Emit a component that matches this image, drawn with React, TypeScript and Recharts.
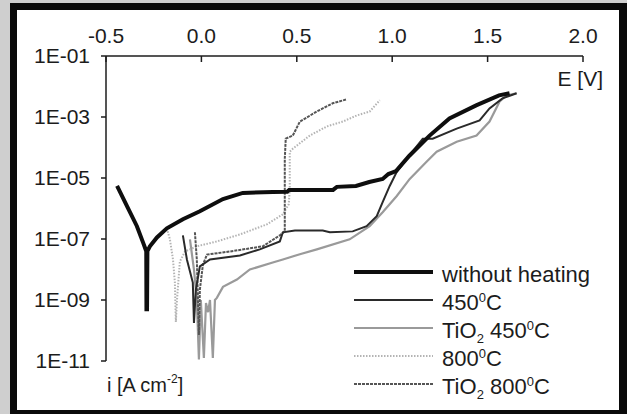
import { LineChart, Line, XAxis, YAxis, Legend } from 'recharts'

const xTicks = [-0.5, 0, 0.5, 1, 1.5, 2]
const yTicks = [-11, -9, -7, -5, -3, -1]

// [E in V, log10 of i in A cm-2]
const withoutHeating = [
  [-0.442, -5.26], [-0.39, -5.92], [-0.338, -6.58], [-0.306, -7.11], [-0.289, -7.4],
  [-0.288, -9.3], [-0.285, -9.3], [-0.283, -7.4], [-0.27, -7.24], [-0.233, -6.95],
  [-0.181, -6.65], [-0.097, -6.35], [-0.008, -6.09], [0.113, -5.69], [0.217, -5.49],
  [0.374, -5.46], [0.45, -5.45], [0.46, -5.39], [0.69, -5.39], [0.71, -5.29],
  [0.81, -5.26], [0.88, -5.13], [0.95, -5.03], [0.98, -4.87], [1.02, -4.77],
  [1.09, -4.27], [1.196, -3.61], [1.3, -3.05], [1.44, -2.62], [1.56, -2.29], [1.615, -2.22],
]

const heated450 = [
  [-0.097, -6.88], [-0.076, -7.67], [-0.045, -8.43], [-0.039, -9.75], [-0.029, -8.66],
  [-0.008, -7.9], [0.045, -7.67], [0.202, -7.54], [0.306, -7.34], [0.411, -7.08],
  [0.427, -6.78], [0.49, -6.72], [0.636, -6.72], [0.673, -6.78], [0.793, -6.75],
  [0.866, -6.58], [0.919, -6.25], [0.95, -5.79], [0.987, -5.26], [1.024, -4.8],
  [1.076, -4.37], [1.16, -3.71], [1.212, -3.71], [1.338, -3.38], [1.458, -3.11],
  [1.51, -2.72], [1.578, -2.39], [1.652, -2.22],
]

const tio2450 = [
  [-0.06, -7.01], [-0.039, -8.0], [-0.024, -9.0], [-0.013, -10.95], [-0.003, -9.0],
  [0.013, -10.9], [0.024, -9.1], [0.035, -9.4], [0.045, -9.0], [0.06, -10.9],
  [0.071, -9.0], [0.081, -8.93], [0.113, -8.57], [0.186, -8.33], [0.254, -8.0],
  [0.374, -7.77], [0.427, -7.67], [0.516, -7.5], [0.605, -7.34], [0.777, -7.01],
  [0.882, -6.58], [0.95, -6.12], [1.024, -5.59], [1.092, -5.03], [1.18, -4.47],
  [1.233, -4.14], [1.338, -3.81], [1.442, -3.61], [1.51, -3.15], [1.563, -2.49],
  [1.6, -2.29], [1.652, -2.22],
]

const heated800 = [
  [-0.181, -6.65], [-0.165, -7.01], [-0.149, -7.67], [-0.139, -8.43], [-0.134, -9.72],
  [-0.128, -9.0], [-0.113, -7.74], [-0.086, -7.41], [-0.024, -7.24], [0.081, -7.08],
  [0.202, -6.85], [0.343, -6.52], [0.427, -6.19], [0.458, -5.86], [0.463, -5.36],
  [0.463, -4.14], [0.479, -4.04], [0.568, -3.61], [0.657, -3.31], [0.741, -3.15],
  [0.814, -2.95], [0.882, -2.82], [0.935, -2.45],
]

const tio2800 = [
  [-0.034, -6.78], [-0.024, -7.67], [-0.018, -8.99], [-0.013, -10.15], [-0.008, -8.66],
  [0.008, -7.84], [0.029, -7.51], [0.149, -7.41], [0.322, -7.24], [0.411, -6.88],
  [0.437, -6.75], [0.437, -5.69], [0.437, -4.37], [0.442, -3.71], [0.479, -3.61],
  [0.516, -3.15], [0.605, -2.82], [0.688, -2.55], [0.762, -2.42],
]

const toRows = (pts: number[][]) => pts.map(([e, lg]) => ({ e, lg }))

const FONT = '"Liberation Sans", Arial, sans-serif'
const INK = '#1c1c1c'

const series = [
  { key: 'tio2450', data: tio2450, stroke: '#9a9a9a', width: 2.2, dash: undefined },
  { key: 'heated800', data: heated800, stroke: '#b4b4b4', width: 2, dash: '1.5 1.5' },
  { key: 'tio2800', data: tio2800, stroke: '#555555', width: 2, dash: '3 1' },
  { key: 'heated450', data: heated450, stroke: '#2a2a2a', width: 2, dash: undefined },
  { key: 'withoutHeating', data: withoutHeating, stroke: '#0e0e0e', width: 4, dash: undefined },
]

const sup = { fontSize: 13, lineHeight: 0 }
const legendRows = [
  { key: 'withoutHeating', label: <>without heating</> },
  { key: 'heated450', label: <>450<sup style={sup}>0</sup>C</> },
  { key: 'tio2450', label: <>TiO<sub style={sup}>2</sub> 450<sup style={sup}>0</sup>C</> },
  { key: 'heated800', label: <>800<sup style={sup}>0</sup>C</> },
  { key: 'tio2800', label: <>TiO<sub style={sup}>2</sub> 800<sup style={sup}>0</sup>C</> },
]

function LegendBox() {
  return (
    <div style={{ fontFamily: FONT, color: INK }}>
      {legendRows.map(r => {
        const s = series.find(x => x.key === r.key)!
        return (
          <div key={r.key} style={{ display: 'flex', alignItems: 'flex-start', height: 28 }}>
            <svg width={88} height={28}>
              <line x1={0} x2={79} y1={11} y2={11} stroke={s.stroke} strokeWidth={s.width} strokeDasharray={s.dash} />
            </svg>
            <span style={{ fontSize: 22, lineHeight: '28px', whiteSpace: 'nowrap' }}>{r.label}</span>
          </div>
        )
      })}
    </div>
  )
}

function TopTick({ x, y, payload }: any) {
  return (
    <g>
      <line x1={x} x2={x} y1={y} y2={y + 6} stroke={INK} strokeWidth={1.5} />
      <text x={x} y={y - 13} textAnchor="middle" fontSize={21} fill={INK} fontFamily={FONT}>
        {Number(payload.value).toFixed(1)}
      </text>
    </g>
  )
}

const fmtY = (v: number) => `1E-${String(-v).padStart(2, '0')}`

export default function App() {
  return (
    <div style={{ position: 'relative', width: 627, height: 414, background: '#cfcfcf', fontFamily: FONT }}>
      <style>{'body{margin:0}'}</style>
      <div style={{ position: 'absolute', left: 10, top: 3, width: 617, height: 411, background: '#0a0a0a' }} />
      <div style={{ position: 'absolute', left: 17, top: 10, width: 602, height: 400, background: '#ffffff' }} />
      <div style={{ position: 'absolute', left: 0, top: 0 }}>
        <LineChart width={627} height={414} margin={{ top: 16, right: 44, bottom: 53, left: 10 }}>
          <XAxis
            type="number"
            dataKey="e"
            orientation="top"
            height={40}
            domain={[-0.5, 2]}
            ticks={xTicks}
            tickSize={0}
            tickMargin={0}
            tickLine={false}
            tick={<TopTick />}
            axisLine={{ stroke: INK, strokeWidth: 1.5 }}
            label={{
              content: () => (
                <text x={603} y={86} textAnchor="end" fontSize={21} fill={INK} fontFamily={FONT}>E [V]</text>
              ),
            }}
          />
          <YAxis
            type="number"
            dataKey="lg"
            width={96}
            domain={[-11, -1]}
            ticks={yTicks}
            tickFormatter={fmtY}
            tickSize={5}
            tickMargin={11}
            tick={{ fontSize: 21, fill: INK, fontFamily: FONT }}
            tickLine={{ stroke: INK, strokeWidth: 1.5 }}
            axisLine={{ stroke: INK, strokeWidth: 1.5 }}
            label={{
              content: () => (
                <text x={107} y={392} fontSize={20} fill={INK} fontFamily={FONT}>
                  i [A cm<tspan fontSize={12} dy={-9}>-2</tspan><tspan dy={9}>]</tspan>
                </text>
              ),
            }}
          />
          {series.map(s => (
            <Line
              key={s.key}
              data={toRows(s.data)}
              dataKey="lg"
              type="linear"
              stroke={s.stroke}
              strokeWidth={s.width}
              strokeDasharray={s.dash}
              dot={false}
              activeDot={false}
              isAnimationActive={false}
            />
          ))}
          <Legend
            layout="vertical"
            align="center"
            verticalAlign="middle"
            content={() => <LegendBox />}
            wrapperStyle={{ position: 'absolute', left: 354, top: 261, width: 270, height: 140 }}
          />
        </LineChart>
      </div>
    </div>
  )
}
